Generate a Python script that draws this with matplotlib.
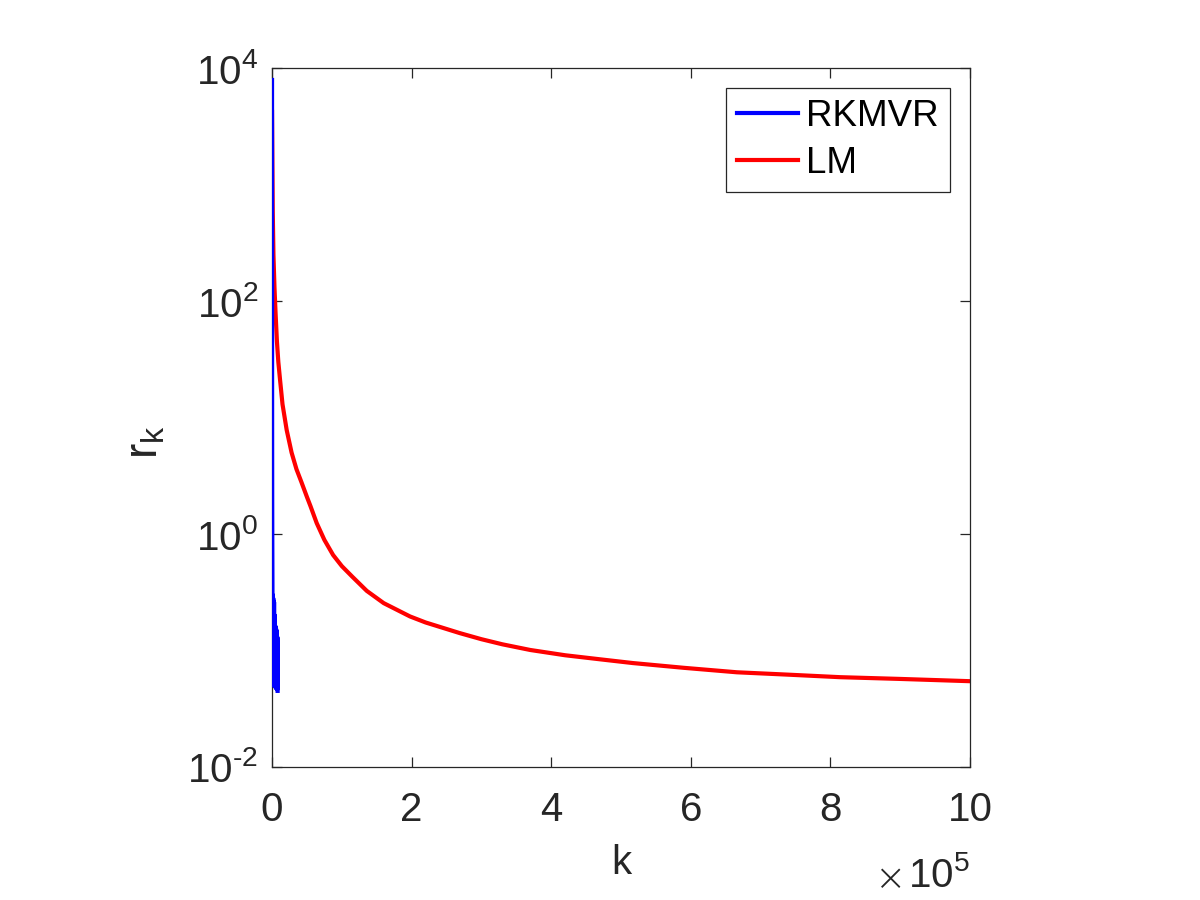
import math
import matplotlib
matplotlib.use("Agg")
import matplotlib.pyplot as plt
from matplotlib.ticker import FixedLocator, FuncFormatter

plt.rcParams['font.family'] = ['Liberation Sans', 'DejaVu Sans']
plt.rcParams['mathtext.fontset'] = 'custom'
plt.rcParams['mathtext.rm'] = 'Liberation Sans'
plt.rcParams['mathtext.it'] = 'Liberation Sans:italic'
plt.rcParams['mathtext.default'] = 'regular'

# ---- data ----
# RKMVR: iteration k, residual r_k
rkmvr_k = [0, 30, 80, 150, 250, 400, 600, 800, 1000, 1200, 1400, 1600, 1800,
           2000, 2300, 2600, 2900, 3200, 3500, 3800, 4100, 4400, 4700, 5000,
           5300, 5600, 5900, 6200, 6500, 6800, 7100, 7400, 7700, 8000]
rkmvr_r = [7900, 600, 40, 8, 2.0, 0.8, 0.35, 0.07, 0.30, 0.06, 0.25, 0.055, 0.28,
           0.05, 0.22, 0.06, 0.26, 0.05, 0.18, 0.055, 0.20, 0.05, 0.15, 0.048,
           0.16, 0.05, 0.14, 0.047, 0.15, 0.05, 0.12, 0.046, 0.13, 0.045]

# LM: iteration k (in units of 1e5), residual r_k
lm_k = [0, 0.005, 0.01, 0.02, 0.035, 0.05, 0.07, 0.09, 0.115, 0.15, 0.21,
        0.28, 0.35, 0.42, 0.50, 0.55, 0.64, 0.75, 0.875, 1.0, 1.15, 1.357,
        1.6, 1.977, 2.2, 2.41, 2.69, 3.0, 3.3, 3.7, 4.2, 4.7, 5.17, 5.9,
        6.66, 7.4, 8.14, 9.0, 10.0]
lm_r = [4200, 1500, 600, 250, 130, 80, 45, 30, 21, 13, 7.8,
        5.0, 3.6, 2.8, 2.08, 1.74, 1.24, 0.89, 0.66, 0.53, 0.43, 0.325,
        0.255, 0.196, 0.174, 0.159, 0.141, 0.125, 0.113, 0.101, 0.091, 0.084, 0.078, 0.071,
        0.065, 0.062, 0.059, 0.057, 0.0545]

series_labels = ['RKMVR', 'LM']
x_ticks = [0, 2e5, 4e5, 6e5, 8e5, 10e5]
x_tick_labels = ['0', '2', '4', '6', '8', '10']
y_ticks = [1e-2, 1e0, 1e2, 1e4]

# ---- figure ----
DARK = '#262626'
fig = plt.figure(figsize=(12, 9), dpi=100)
ax = fig.add_axes([0.2267, 0.1478, 0.5816, 0.7766])

lm_k_abs = [v * 1e5 for v in lm_k]
ax.plot(rkmvr_k, rkmvr_r, color='#0000ff', lw=3.0, label=series_labels[0],
        solid_joinstyle='round', zorder=3)
ax.plot(lm_k_abs, lm_r, color='#ff0000', lw=3.0, label=series_labels[1], zorder=2)

ax.set_yscale('log')
ax.set_xlim(0, 1e6)
ax.set_ylim(1e-2, 1e4)

ax.xaxis.set_major_locator(FixedLocator(x_ticks))
ax.xaxis.set_major_formatter(FuncFormatter(
    lambda v, p: x_tick_labels[x_ticks.index(v)] if v in x_ticks else ''))
ax.yaxis.set_major_locator(FixedLocator(y_ticks))


def yfmt(v, p):
    e = round(math.log10(v))
    s = str(e).replace('-', '\u2010')
    return r'$\mathregular{10^{%s}}$' % s


ax.yaxis.set_major_formatter(FuncFormatter(yfmt))
ax.yaxis.set_minor_locator(FixedLocator([]))

for s in ax.spines.values():
    s.set_color(DARK)
    s.set_linewidth(0.9)
ax.tick_params(axis='both', which='major', direction='in', length=7, width=0.9,
               colors=DARK, labelsize=29, top=True, right=True)
ax.tick_params(axis='x', pad=17)
ax.tick_params(axis='y', pad=10)

ax.set_xlabel('k', fontsize=29, color=DARK)
ax.xaxis.set_label_coords(0.5, -0.11)
ax.set_ylabel(r'$\mathregular{r_k}$', fontsize=33, color=DARK)
ax.yaxis.set_label_coords(-0.15, 0.465)

ax.text(1.0, -0.155, r'$\mathregular{10^{5}}$', transform=ax.transAxes,
        ha='right', va='center', fontsize=29, color=DARK)
ax.text(0.909, -0.161, '\u00d7', transform=ax.transAxes, family='DejaVu Sans',
        ha='right', va='center', fontsize=27, color=DARK, fontweight='light')

leg = ax.legend(loc='upper right', bbox_to_anchor=(0.971, 0.971),
                borderaxespad=0, fontsize=26.5, fancybox=False, framealpha=1,
                edgecolor=DARK, handlelength=1.65, handletextpad=0.22,
                labelspacing=0.31, borderpad=0.3)
leg.get_frame().set_linewidth(0.9)
for line in leg.get_lines():
    line.set_linewidth(3.0)

fig.savefig('out.png', dpi=100, facecolor='white')
